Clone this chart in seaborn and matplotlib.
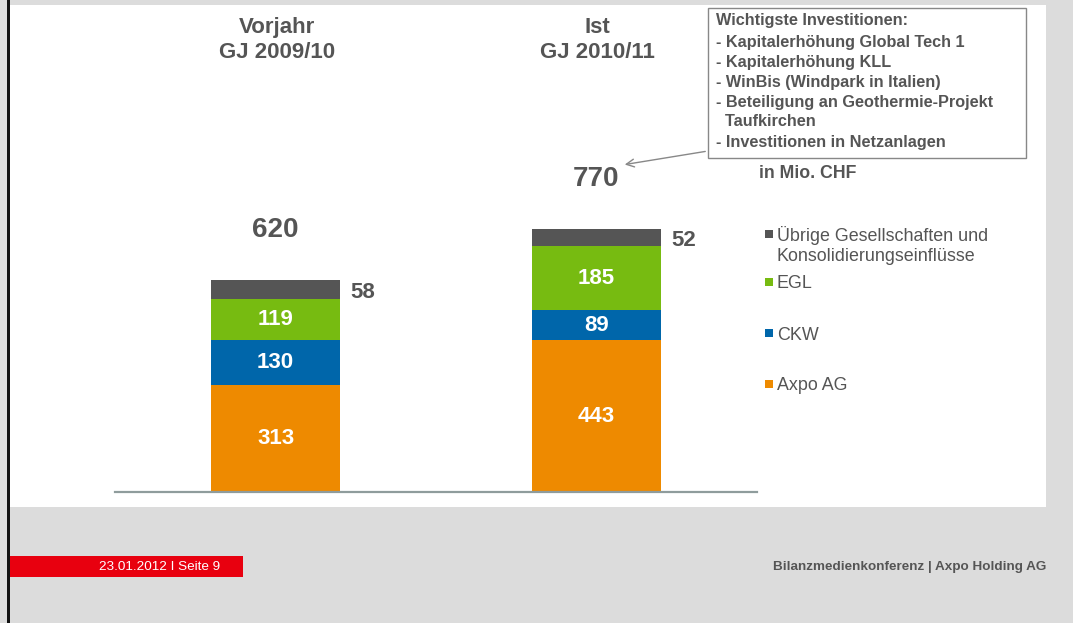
import pandas as pd
import matplotlib.pyplot as plt
import seaborn as sns
from matplotlib.patches import Rectangle

# Data (in Mio. CHF)
years = ['Vorjahr\nGJ 2009/10', 'Ist\nGJ 2010/11']
segments = ['Axpo AG', 'CKW', 'EGL', 'Übrige Gesellschaften und\nKonsolidierungseinflüsse']
axpo = [313, 443]
ckw = [130, 89]
egl = [119, 185]
uebrige = [58, 52]
totals = [620, 770]
colors = ['#ee8a00', '#0066aa', '#77bb11', '#555555']

notes = ['Wichtigste Investitionen:',
         '- Kapitalerhöhung Global Tech 1',
         '- Kapitalerhöhung KLL',
         '- WinBis (Windpark in Italien)',
         '- Beteiligung an Geothermie-Projekt',
         '  Taufkirchen',
         '- Investitionen in Netzanlagen']

data = pd.DataFrame({'year': years, 'Axpo AG': axpo, 'CKW': ckw, 'EGL': egl,
                     segments[3]: uebrige})

sns.set_style('white')
plt.rcParams['font.family'] = ['Liberation Sans', 'DejaVu Sans']

W, H = 1073, 623
fig = plt.figure(figsize=(W / 100, H / 100), dpi=100, facecolor='#dcdcdc')

def fx(p):
    return p / W

def fy(p):
    return 1 - p / H

# slide background
fig.add_artist(Rectangle((fx(10), fy(507)), fx(1036), (507 - 5) / H,
                         transform=fig.transFigure, facecolor='white', edgecolor='none', zorder=0))
fig.add_artist(Rectangle((fx(7), 0), fx(2.5), 1, transform=fig.transFigure,
                         facecolor='#111111', edgecolor='none', zorder=5))

ax = fig.add_axes([fx(115), 1 - 492 / H, fx(757 - 115), (492 - 8) / H])
ax.set_facecolor('none')

bottom = [0, 0]
for seg, c in zip(segments, colors):
    sns.barplot(x='year', y=seg, data=data, color=c, width=0.4, bottom=bottom,
                ax=ax, saturation=1, edgecolor='none', linewidth=0)
    for i, v in enumerate(data[seg]):
        if seg == segments[3]:
            ax.text(i + 0.232, bottom[i] + v / 2 - 8, str(v), ha='left', va='center',
                    fontsize=16, fontweight='bold', color='#555555')
        else:
            ax.text(i, bottom[i] + v / 2, str(v), ha='center', va='center',
                    fontsize=16, fontweight='bold', color='white')
    bottom = [b + v for b, v in zip(bottom, data[seg])]

for i, t in enumerate(totals):
    ax.text(i, t + 145, str(t), ha='center', va='center', fontsize=20,
            fontweight='bold', color='#555555')

ax.set_xlim(-0.5, 1.5)
ax.set_ylim(0, 1413)
ax.set_xlabel('')
ax.set_ylabel('')
ax.set_xticks([])
ax.set_yticks([])
for s in ['top', 'right', 'left']:
    ax.spines[s].set_visible(False)
ax.spines['bottom'].set_color('#8f9c9c')
ax.spines['bottom'].set_linewidth(1.6)

# column headers
for i, y in enumerate(years):
    fig.text(fx(277 + i * 320), fy(40), y, ha='center', va='center', fontsize=16,
             fontweight='bold', color='#555555', linespacing=1.25)

# annotation box
fig.add_artist(Rectangle((fx(708), fy(158)), fx(318), 150 / H, transform=fig.transFigure,
                         facecolor='white', edgecolor='#888888', linewidth=1, zorder=3))
line_y = [20, 43, 63, 83, 103, 122, 142]
for txt, y in zip(notes, line_y):
    fig.text(fx(716), fy(y), txt, ha='left', va='center', fontsize=11.7,
             fontweight='bold', color='#555555', zorder=4)
ax.annotate('', xy=(622, H - 165), xycoords='figure pixels',
            xytext=(708, H - 151), textcoords='figure pixels',
            arrowprops=dict(arrowstyle='->', color='#888888', lw=1, mutation_scale=14))

fig.text(fx(759), fy(173), 'in Mio. CHF', ha='left', va='center', fontsize=12.8,
         fontweight='bold', color='#555555')

# legend
leg_y = [236, 284, 335, 386]
for seg, c, y in zip(segments[::-1], colors[::-1], leg_y):
    fig.add_artist(Rectangle((fx(765), fy(y + 2)), fx(8), 8 / H, transform=fig.transFigure,
                             facecolor=c, edgecolor='none'))
    if '\n' in seg:
        fig.text(fx(777), fy(y - 10), seg, ha='left', va='top', fontsize=12.9,
                 color='#555555', linespacing=1.2)
    else:
        fig.text(fx(777), fy(y), seg, ha='left', va='center', fontsize=12.9,
                 color='#555555')

# footer
fig.add_artist(Rectangle((fx(10), fy(577)), fx(233), 21 / H, transform=fig.transFigure,
                         facecolor='#e8000f', edgecolor='none'))
fig.text(fx(160), fy(567), '23.01.2012 I Seite 9', ha='center', va='center',
         fontsize=9.7, color='white')
fig.text(fx(1046), fy(567), 'Bilanzmedienkonferenz | Axpo Holding AG', ha='right',
         va='center', fontsize=9.7, fontweight='bold', color='#555555')

fig.savefig('out.png', dpi=100, facecolor=fig.get_facecolor())
